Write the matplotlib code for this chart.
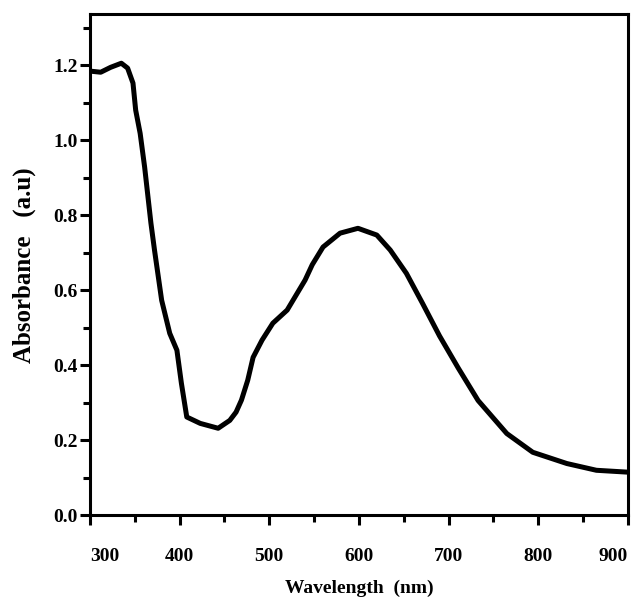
import numpy as np
import matplotlib.pyplot as plt
from matplotlib.ticker import MultipleLocator
from matplotlib.transforms import blended_transform_factory, offset_copy

plt.rcParams['font.family'] = ['Liberation Serif', 'DejaVu Serif']
plt.rcParams['font.weight'] = 'bold'

# absorption spectrum
wavelength = [300, 312, 323, 335, 342, 348, 351, 356, 361, 368, 372, 380, 389,
              397, 402, 408, 423, 443, 456, 463, 469, 476, 482, 492, 504,
              520, 532, 540, 548, 560, 579, 599, 620, 635, 653, 671, 690,
              711, 733, 765, 794, 832, 865, 900]
absorbance = [1.184, 1.181, 1.194, 1.205, 1.192, 1.152, 1.080, 1.018, 0.928, 0.779,
              0.707, 0.573, 0.485, 0.440, 0.352, 0.262, 0.245, 0.232, 0.253,
              0.275, 0.307, 0.360, 0.421, 0.467, 0.512, 0.547, 0.595, 0.627,
              0.668, 0.715, 0.752, 0.765, 0.747, 0.707, 0.645, 0.565, 0.478,
              0.392, 0.306, 0.218, 0.168, 0.138, 0.120, 0.115]
xtick_vals = [300, 400, 500, 600, 700, 800, 900]

fig = plt.figure(figsize=(6.38, 6.12), dpi=100)
ax = fig.add_axes([0.141, 0.158, 0.843, 0.819])

ax.plot(wavelength, absorbance, color='black', lw=3.6,
        solid_joinstyle='round', solid_capstyle='round')

ax.set_xlim(300, 900)
ax.set_ylim(0, 1.336)
ax.set_xticks(xtick_vals)
ax.xaxis.set_minor_locator(MultipleLocator(50))
ax.yaxis.set_major_locator(MultipleLocator(0.2))
ax.yaxis.set_minor_locator(MultipleLocator(0.1))
ax.yaxis.set_major_formatter(plt.FormatStrFormatter('%.1f'))

for s in ax.spines.values():
    s.set_linewidth(2.2)

ax.tick_params(which='major', direction='out', length=7, width=2.2, labelsize=14)
ax.tick_params(which='minor', direction='out', length=5, width=2.2)
ax.tick_params(axis='x', labelbottom=False)
ax.tick_params(axis='y', pad=2)

# x tick labels drawn by hand so the end ones can sit inside the frame
trans = offset_copy(blended_transform_factory(ax.transData, ax.transAxes),
                    fig=fig, x=0, y=-30, units='points')
for v in xtick_vals:
    ha = 'center'
    if v == xtick_vals[0]:
        ha = 'left'
    elif v == xtick_vals[-1]:
        ha = 'right'
    ax.text(v, 0, str(v), transform=trans, ha=ha, va='center',
            fontsize=14, fontweight='bold')

ax.set_xlabel('Wavelength  (nm)', fontsize=14, fontweight='bold', labelpad=38)
ax.set_ylabel('Absorbance   (a.u)', fontsize=18, fontweight='bold', labelpad=12)

fig.savefig('out.png', dpi=100)
